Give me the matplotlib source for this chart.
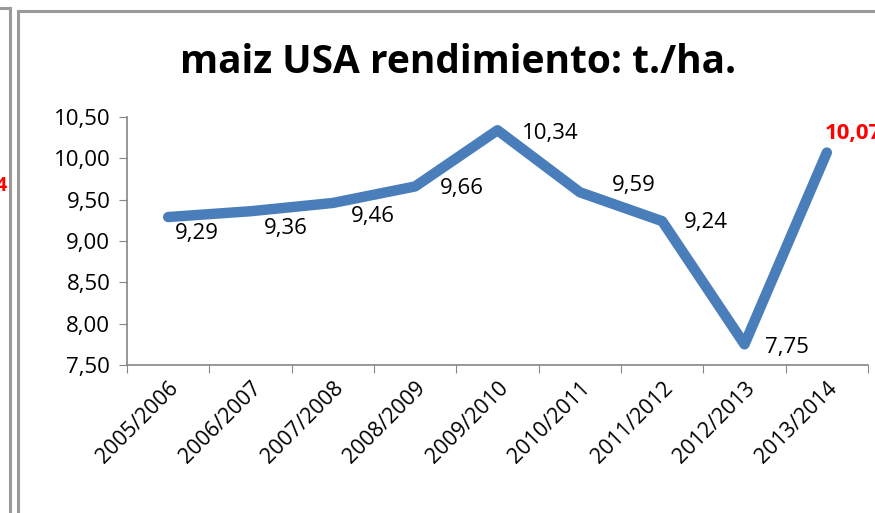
import matplotlib.pyplot as plt
from matplotlib.lines import Line2D

# datos: rendimiento maiz USA (t./ha.)
campanas = ["2005/2006", "2006/2007", "2007/2008", "2008/2009", "2009/2010",
            "2010/2011", "2011/2012", "2012/2013", "2013/2014"]
rendimiento = [9.29, 9.36, 9.46, 9.66, 10.34, 9.59, 9.24, 7.75, 10.07]
y_ticks = [7.5, 8.0, 8.5, 9.0, 9.5, 10.0, 10.5]

# desplazamiento de las etiquetas en pixeles (dx, dy)
offsets = [(29, -16), (35, -17), (40, -14), (47, -2), (53, -3),
           (54, 7), (44, -1), (42, -3), (26, 19)]

W, H = 875, 513
plt.rcParams['font.family'] = ['Open Sans', 'DejaVu Sans']

fig = plt.figure(figsize=(W / 100, H / 100), dpi=100)
fig.patch.set_facecolor('white')


def px(x, y):
    return x / W, 1 - y / H


# marcos de los graficos (recortados en la captura)
gris = '#9a9a9a'
for xs, ys in [([0, 10], [8, 8]), ([10, 10], [8, H]),
               ([18, 18], [11, H]), ([18, W], [11, 11])]:
    fig.add_artist(Line2D([x / W for x in xs], [1 - y / H for y in ys],
                          transform=fig.transFigure, color=gris, lw=2.2))

# resto del grafico anterior
fig.text(*px(1, 186), "4", color='red', fontsize=14, fontweight='bold',
         ha='center', va='center')

ax = fig.add_axes([127 / W, 1 - 365 / H, (868 - 127) / W, (365 - 117) / H])
x = list(range(len(campanas)))
ax.plot(x, rendimiento, color='#4A7EBB', lw=7.5, solid_joinstyle='round',
        solid_capstyle='round')

ax.set_xlim(-0.5, len(campanas) - 0.5)
ax.set_ylim(7.5, 10.5)
ax.set_yticks(y_ticks)
ax.set_yticklabels([f"{v:.2f}".replace('.', ',') for v in y_ticks], fontsize=16)
ax.set_xticks([i - 0.5 for i in range(len(campanas) + 1)], minor=False)
ax.set_xticklabels([])
ax.set_xticks(x, minor=True)
ax.set_xticklabels(campanas, minor=True, rotation=45, ha='right',
                   rotation_mode='anchor', fontsize=15.5)
ax.tick_params(axis='x', which='minor', length=0, pad=9)
ax.tick_params(axis='x', which='major', length=6, color='#868686', direction='out')
ax.tick_params(axis='y', length=6, color='#868686', direction='out', pad=6)

for s in ['top', 'right']:
    ax.spines[s].set_visible(False)
for s in ['left', 'bottom']:
    ax.spines[s].set_color('#868686')
    ax.spines[s].set_linewidth(1.2)

for i, (v, (dx, dy)) in enumerate(zip(rendimiento, offsets)):
    ultimo = i == len(rendimiento) - 1
    ax.annotate(f"{v:.2f}".replace('.', ','), (i, v), xytext=(dx, dy),
                textcoords='offset pixels', ha='center', va='center',
                fontsize=16, color='red' if ultimo else 'black',
                fontweight='bold' if ultimo else 'normal', annotation_clip=False)

fig.text(*px(458, 63), "maiz USA rendimiento: t./ha.", fontsize=28,
         fontweight='bold', ha='center', va='center')

fig.savefig('out.png', dpi=100)
